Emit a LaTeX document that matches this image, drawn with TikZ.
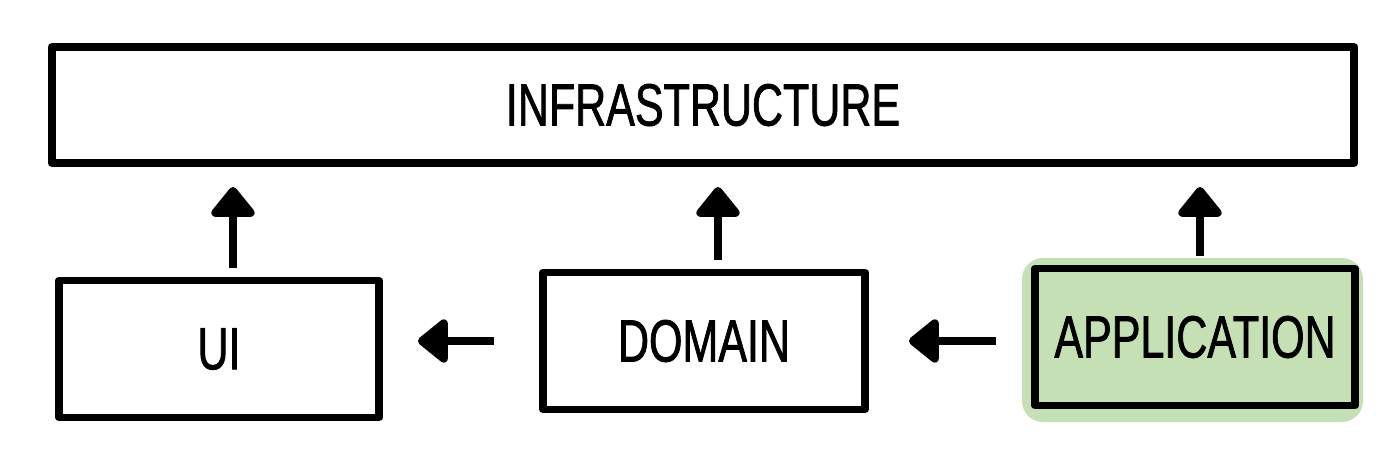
\documentclass[tikz,border=0pt]{standalone}
\usepackage{fontspec}
\newfontfamily\sketchfont[FakeStretch=0.72, FakeBold=1.2]{Liberation Sans}
\usetikzlibrary{arrows.meta}

\definecolor{appgreen}{RGB}{197,224,180}

\tikzset{
	layer/.style = {draw, line width = 4.5pt, line cap = round, line join = round,
		minimum height = 2.74cm, font = \sketchfont\fontsize{34}{40}\selectfont},
	dep/.style = {line width = 4.8pt, -{Triangle[width = 10mm, length = 6.5mm, round]}}
}

\begin{document}
\begin{tikzpicture}[x = 0.02cm, y = -0.02cm]
			\useasboundingbox (0,0) rectangle (1400,461);
			
			% layers
			\node [layer, minimum width = 26.06cm, minimum height = 2.32cm] (infra) at (703,105) {INFRASTRUCTURE};
			\node [layer, minimum width = 6.4cm] (ui) at (219,349) {UI};
			\node [layer, minimum width = 6.44cm] (domain) at (704,341) {DOMAIN};
			
			\begin{scope}
				\fill [appgreen, rounded corners = 12pt] (1022,258) rectangle (1363,422);
				\node [layer, fill = appgreen, minimum width = 6.4cm] (app) at (1195,337) {APPLICATION};
			\end{scope}
			
			% dependencies
			\begin{scope}[dep, shorten <= 0.18cm, shorten >= 0.4cm]
				\draw ([xshift = 0.28cm]ui.north) -- ([xshift = 0.28cm]ui.north |- infra.south);
				\draw ([xshift = 0.28cm]domain.north) -- ([xshift = 0.28cm]domain.north |- infra.south);
				\draw ([xshift = 0.1cm]app.north) -- ([xshift = 0.1cm]app.north |- infra.south);
			\end{scope}
			
			\draw [dep, shorten <= 0.9cm, shorten >= 0.7cm] (domain.west) -- (ui.east |- domain.west);
			\draw [dep, shorten <= 0.7cm, shorten >= 0.8cm] (app.west |- domain.east) -- (domain.east);
			
		\end{tikzpicture}
\end{document}
